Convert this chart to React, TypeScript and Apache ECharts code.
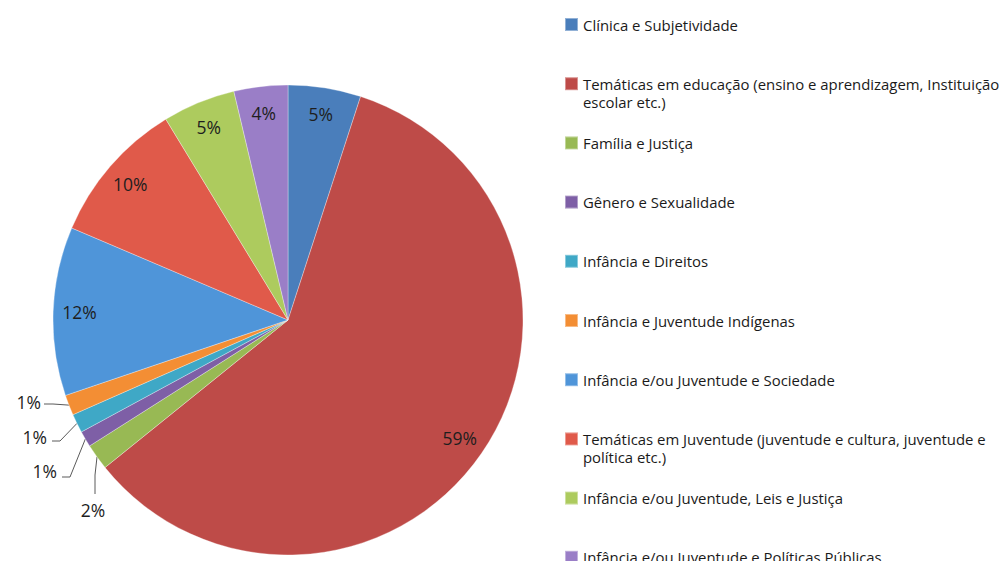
import React, { useEffect, useRef } from 'react';
import * as echarts from 'echarts';

const categories = [
  'Clínica e Subjetividade',
  'Temáticas em educação (ensino e aprendizagem, Instituição escolar etc.)',
  'Família e Justiça',
  'Gênero e Sexualidade',
  'Infância e Direitos',
  'Infância e Juventude Indígenas',
  'Infância e/ou Juventude e Sociedade',
  'Temáticas em Juventude (juventude e cultura, juventude e política etc.)',
  'Infância e/ou Juventude, Leis e Justiça',
  'Infância e/ou Juventude e Políticas Públicas',
];
const values = [5.0, 59.2, 1.8, 1.1, 1.3, 1.4, 11.6, 9.9, 5.0, 3.7];
const colors = [
  '#4A7EBB', '#BE4B48', '#98B954', '#7E5FA6', '#3FA8C6',
  '#F38E34', '#4F95D9', '#E05A4A', '#ADCB5E', '#9A7EC7',
];
// slices whose labels sit outside the pie, with leader lines
const outsideIdx = [2, 3, 4, 5];

const FONT = '"Open Sans", Lato, sans-serif';

function wrap(text: string, max: number): string[] {
  const words = text.split(' ');
  const lines: string[] = [];
  let cur = '';
  for (const w of words) {
    const cand = cur ? cur + ' ' + w : w;
    if (cand.length > max && cur) {
      lines.push(cur);
      cur = w;
    } else cur = cand;
  }
  if (cur) lines.push(cur);
  return lines;
}

export default function App() {
  const ref = useRef<HTMLDivElement>(null);
  useEffect(() => {
    const chart = echarts.init(ref.current!, undefined, { renderer: 'svg' });
    const R = 235;
    const center = [288, 320];
    const total = values.reduce((a, b) => a + b, 0);
    const pct = (p: any) => Math.round((p.value / total) * 100) + '%';

    // label placement for the small outside slices (label anchor and leader bends)
    const outsidePlace: Record<number, any> = {
      2: { x: 93, y: 510, align: 'center', verticalAlign: 'middle', pts: [[95, 475], [95, 494]] },
      3: { x: 57, y: 471, align: 'right', verticalAlign: 'middle', pts: [[70, 477], [62, 477]] },
      4: { x: 47, y: 437, align: 'right', verticalAlign: 'middle', pts: [[60, 441], [52, 441]] },
      5: { x: 41, y: 402, align: 'right', verticalAlign: 'middle', pts: [[53, 404], [44, 404]] },
    };

    const option: any = {
      animation: false,
      legend: {
        orient: 'vertical',
        left: 564,
        top: 0,
        height: 800,
        padding: 0,
        itemWidth: 13,
        itemHeight: 13,
        itemGap: 9.2,
        icon: 'rect',
        selectedMode: false,
        data: categories.map((name, i) => ({ name, itemStyle: { color: colors[i] } })),
        formatter: (name: string) => {
          const lines = wrap(name, 58);
          if (lines.length < 2) lines.push(' ');
          return '{s| }\n' + lines.map((l) => '{t|' + l + '}').join('\n');
        },
        textStyle: {
          rich: {
            s: { lineHeight: 18, fontSize: 13 },
            t: { lineHeight: 18, fontSize: 14.9, color: '#1a1a1a', fontFamily: FONT },
          },
        },
      },
      series: [
        {
          type: 'pie',
          center,
          radius: R,
          startAngle: 90,
          clockwise: true,
          avoidLabelOverlap: false,
          emphasis: { disabled: true },
          itemStyle: { borderColor: 'rgba(255,255,255,0.4)', borderWidth: 0.8 },
          data: categories.map((name, i) => ({
            name,
            value: values[i],
            itemStyle: { color: colors[i] },
            label: { show: outsideIdx.includes(i) },
            labelLine: { show: outsideIdx.includes(i) },
          })),
          label: {
            position: 'outside',
            formatter: pct,
            fontSize: 17.5,
            color: '#1e1e1e',
            fontFamily: FONT,
          },
          labelLine: {
            length: 10,
            length2: 6,
            lineStyle: { color: '#5a5a5a', width: 1 },
          },
          labelLayout: (params: any) => {
            const cfg = outsidePlace[params.dataIndex];
            if (!cfg) return {};
            const start = params.labelLinePoints ? params.labelLinePoints[0] : cfg.pts[0];
            return {
              x: cfg.x,
              y: cfg.y,
              align: cfg.align,
              verticalAlign: cfg.verticalAlign,
              labelLinePoints: [start, cfg.pts[0], cfg.pts[1]],
            };
          },
        },
        {
          type: 'pie',
          center,
          radius: [R * 0.75, R],
          startAngle: 90,
          clockwise: true,
          silent: true,
          avoidLabelOverlap: false,
          emphasis: { disabled: true },
          itemStyle: { color: 'rgba(0,0,0,0)' },
          data: categories.map((name, i) => ({
            name,
            value: values[i],
            label: { show: !outsideIdx.includes(i) },
          })),
          label: {
            position: 'inside',
            formatter: pct,
            fontSize: 17.5,
            color: '#1e1e1e',
            fontFamily: FONT,
          },
          labelLine: { show: false },
        },
      ],
    };
    chart.setOption(option);
    return () => chart.dispose();
  }, []);
  return (
    <div
      ref={ref}
      style={{ position: 'fixed', left: 0, top: 0, width: 1006, height: 561, background: '#fff' }}
    />
  );
}
